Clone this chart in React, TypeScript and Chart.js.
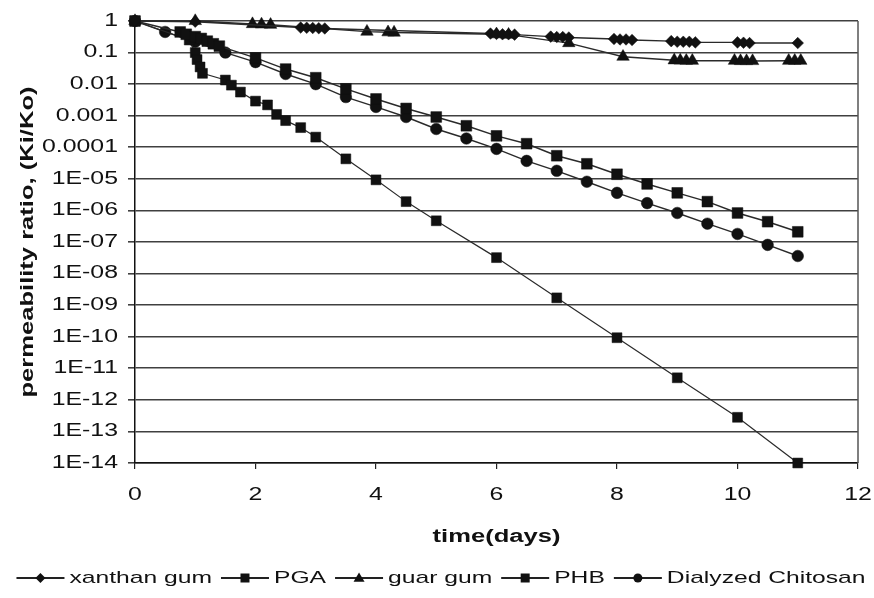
import React, { useEffect, useRef } from "react";
import { Chart, registerables } from "chart.js";
Chart.register(...registerables);

const seriesNames = ["xanthan gum", "PGA", "guar gum", "PHB", "Dialyzed Chitosan"];

const xanthanDays = [0, 1, 2.75, 2.85, 2.95, 3.05, 3.15, 5.9, 6.0, 6.1, 6.2, 6.3, 6.9, 7.0, 7.1, 7.2, 7.95, 8.05, 8.15, 8.25, 8.9, 9.0, 9.1, 9.2, 9.3, 10.0, 10.1, 10.2, 11.0];
const xanthanValues = [1, 0.95, 0.62, 0.61, 0.6, 0.59, 0.58, 0.4, 0.39, 0.38, 0.38, 0.37, 0.32, 0.31, 0.31, 0.3, 0.27, 0.26, 0.26, 0.25, 0.23, 0.22, 0.22, 0.22, 0.21, 0.21, 0.205, 0.2, 0.2];

const pgaDays = [0, 0.75, 0.85, 1.0, 1.1, 1.2, 1.3, 1.4, 2, 2.5, 3, 3.5, 4, 4.5, 5, 5.5, 6, 6.5, 7, 7.5, 8, 8.5, 9, 9.5, 10, 10.5, 11];
const pgaValues = [1, 0.45, 0.38, 0.32, 0.28, 0.23, 0.19, 0.16, 0.068, 0.03, 0.016, 0.0071, 0.0034, 0.0017, 0.00091, 0.00048, 0.00023, 0.00013, 5.4e-5, 3.0e-5, 1.4e-5, 6.9e-6, 3.6e-6, 1.9e-6, 8.3e-7, 4.4e-7, 2.1e-7];

const guarDays = [0, 1.0, 1.95, 2.1, 2.25, 3.85, 4.2, 4.3, 6.0, 6.2, 7.2, 8.1, 8.95, 9.05, 9.15, 9.25, 9.95, 10.05, 10.15, 10.25, 10.85, 10.95, 11.05];
const guarValues = [1, 1.0, 0.8, 0.78, 0.76, 0.46, 0.44, 0.43, 0.38, 0.37, 0.2, 0.074, 0.057, 0.056, 0.055, 0.055, 0.055, 0.054, 0.054, 0.054, 0.055, 0.055, 0.055];

const phbDays = [0, 0.9, 1.0, 1.03, 1.08, 1.12, 1.5, 1.6, 1.75, 2, 2.2, 2.35, 2.5, 2.75, 3, 3.5, 4, 4.5, 5, 6, 7, 8, 9, 10, 11];
const phbValues = [1, 0.25, 0.1, 0.06, 0.035, 0.022, 0.0135, 0.0093, 0.0056, 0.0029, 0.0022, 0.0011, 0.0007, 0.00042, 0.00021, 4.3e-5, 9.3e-6, 1.9e-6, 4.7e-7, 3.2e-8, 1.7e-9, 9.3e-11, 5e-12, 2.8e-13, 1e-14];

const chitosanDays = [0, 0.5, 1, 1.5, 2, 2.5, 3, 3.5, 4, 4.5, 5, 5.5, 6, 6.5, 7, 7.5, 8, 8.5, 9, 9.5, 10, 10.5, 11];
const chitosanValues = [1, 0.45, 0.22, 0.1, 0.05, 0.021, 0.01, 0.0039, 0.0019, 0.00091, 0.00038, 0.00019, 8.9e-5, 3.7e-5, 1.8e-5, 8.1e-6, 3.6e-6, 1.7e-6, 8.3e-7, 3.8e-7, 1.8e-7, 8.1e-8, 3.6e-8];

const yTickValues = [1, 1e-1, 1e-2, 1e-3, 1e-4, 1e-5, 1e-6, 1e-7, 1e-8, 1e-9, 1e-10, 1e-11, 1e-12, 1e-13, 1e-14];
const yTickLabels = ["1", "0.1", "0.01", "0.001", "0.0001", "1E-05", "1E-06", "1E-07", "1E-08", "1E-09", "1E-10", "1E-11", "1E-12", "1E-13", "1E-14"];
const xTickValues = [0, 2, 4, 6, 8, 10, 12];
const xTickLabels = ["0", "2", "4", "6", "8", "10", "12"];
const xTitle = "time(days)";
const yTitle = "permeability ratio, (Ki/Ko)";

const pointStyles = ["rectRot", "rect", "triangle", "rect", "circle"];
const pointRadii = [5.8, 7.6, 7.2, 7, 5.8];
const lineWidths = [1.4, 1.5, 1.4, 1.2, 1.4];

const FONT = '"Liberation Sans", Arial, sans-serif';
const INK = "#111";

function drawText(ctx: CanvasRenderingContext2D, text: string, x: number, y: number, align: CanvasTextAlign, font: string, sx: number, rot = 0) {
  ctx.save();
  ctx.translate(x, y);
  if (rot) ctx.rotate(rot);
  ctx.scale(sx, 1);
  ctx.font = font;
  ctx.fillStyle = INK;
  ctx.textAlign = align;
  ctx.textBaseline = "middle";
  ctx.fillText(text, 0, 0);
  ctx.restore();
}

function drawMarker(ctx: CanvasRenderingContext2D, style: string, x: number, y: number) {
  ctx.beginPath();
  if (style === "rectRot") {
    const r = 5;
    ctx.moveTo(x, y - r); ctx.lineTo(x + r, y); ctx.lineTo(x, y + r); ctx.lineTo(x - r, y); ctx.closePath();
  } else if (style === "rect") {
    const h = 4.5;
    ctx.rect(x - h, y - h, 2 * h, 2 * h);
  } else if (style === "triangle") {
    const r = 5.5;
    ctx.moveTo(x, y - r); ctx.lineTo(x + r, y + r * 0.7); ctx.lineTo(x - r, y + r * 0.7); ctx.closePath();
  } else {
    ctx.arc(x, y, 4.5, 0, Math.PI * 2);
  }
  ctx.fill();
}

const textPlugin = {
  id: "stretchedTexts",
  beforeDatasetsDraw(chart: any) {
    const ctx = chart.ctx as CanvasRenderingContext2D;
    const { right, top, bottom } = chart.chartArea;
    ctx.save();
    ctx.strokeStyle = "#555";
    ctx.lineWidth = 1.5;
    ctx.beginPath();
    ctx.moveTo(right, top);
    ctx.lineTo(right, bottom);
    ctx.stroke();
    ctx.restore();
  },
  afterDraw(chart: any) {
    const ctx = chart.ctx as CanvasRenderingContext2D;
    const { left, right, top, bottom } = chart.chartArea;
    const tickFont = `17.5px ${FONT}`;
    yTickValues.forEach((v, i) => {
      drawText(ctx, yTickLabels[i], 118, chart.scales.y.getPixelForValue(v), "right", tickFont, 1.42);
    });
    xTickValues.forEach((v, i) => {
      drawText(ctx, xTickLabels[i], chart.scales.x.getPixelForValue(v), 495, "center", tickFont, 1.42);
    });
    const titleFont = `bold 18px ${FONT}`;
    drawText(ctx, xTitle, (left + right) / 2, 537, "center", titleFont, 1.42);
    drawText(ctx, yTitle, 28, (top + bottom) / 2, "center", titleFont, 1.42, -Math.PI / 2);

    // legend
    const legendFont = `17px ${FONT}`;
    const sx = 1.45;
    const symW = 48, gapA = 5, gapB = 9;
    ctx.save();
    ctx.font = legendFont;
    const widths = seriesNames.map((n) => ctx.measureText(n).width * sx);
    ctx.restore();
    const total = widths.reduce((a, b) => a + b, 0) + seriesNames.length * (symW + gapA) + (seriesNames.length - 1) * gapB;
    let x = 441 - total / 2;
    const ly = 578;
    seriesNames.forEach((name, i) => {
      ctx.save();
      ctx.strokeStyle = "#222";
      ctx.lineWidth = 2;
      ctx.beginPath();
      ctx.moveTo(x, ly);
      ctx.lineTo(x + symW, ly);
      ctx.stroke();
      ctx.fillStyle = INK;
      drawMarker(ctx, pointStyles[i], x + symW / 2, ly);
      ctx.restore();
      x += symW + gapA;
      drawText(ctx, name, x, ly, "left", legendFont, sx);
      x += widths[i] + gapB;
    });
  },
};

function series(days: number[], values: number[]) {
  return days.map((d, i) => ({ x: d, y: values[i] }));
}

export default function App() {
  const ref = useRef<HTMLCanvasElement>(null);
  useEffect(() => {
    const canvas = ref.current!;
    const all = [
      series(xanthanDays, xanthanValues),
      series(pgaDays, pgaValues),
      series(guarDays, guarValues),
      series(phbDays, phbValues),
      series(chitosanDays, chitosanValues),
    ];
    const datasets = all.map((data, i) => ({
      label: seriesNames[i],
      data,
      borderColor: "#2a2a2a",
      borderWidth: lineWidths[i],
      backgroundColor: INK,
      pointStyle: pointStyles[i] as any,
      pointRadius: pointRadii[i],
      pointBackgroundColor: INK,
      pointBorderColor: INK,
      pointBorderWidth: 0.5,
      tension: 0,
      fill: false,
      clip: false as any,
    }));
    const chart = new Chart(canvas, {
      type: "line",
      data: { datasets },
      options: {
        animation: false,
        responsive: false,
        maintainAspectRatio: false,
        devicePixelRatio: 1,
        layout: { padding: { left: 0, right: 16, top: 21, bottom: 50 } },
        plugins: { legend: { display: false }, tooltip: { enabled: false } },
        scales: {
          x: {
            type: "linear",
            min: 0,
            max: 12,
            afterBuildTicks: (s: any) => {
              s.ticks = xTickValues.map((v) => ({ value: v }));
            },
            afterFit: (s: any) => {
              s.height = 85;
            },
            ticks: { display: false },
            grid: { drawOnChartArea: false, drawTicks: true, tickLength: 6, color: "#222", lineWidth: 1.2 },
            border: { display: true, color: "#111", width: 1.5 },
          },
          y: {
            type: "logarithmic",
            min: 1e-14,
            max: 1,
            afterBuildTicks: (s: any) => {
              s.ticks = yTickValues.map((v) => ({ value: v, major: true }));
            },
            afterFit: (s: any) => {
              s.width = 135;
            },
            ticks: { display: false },
            grid: { color: "#404040", lineWidth: 1.6, drawTicks: true, tickLength: 7 },
            border: { display: true, color: "#111", width: 1.5 },
          },
        },
      },
      plugins: [textPlugin],
    });
    return () => chart.destroy();
  }, []);
  return (
    <div style={{ position: "fixed", left: 0, top: 0, width: 874, height: 598, background: "#fff" }}>
      <canvas ref={ref} width={874} height={598} style={{ display: "block", width: 874, height: 598 }} />
    </div>
  );
}
